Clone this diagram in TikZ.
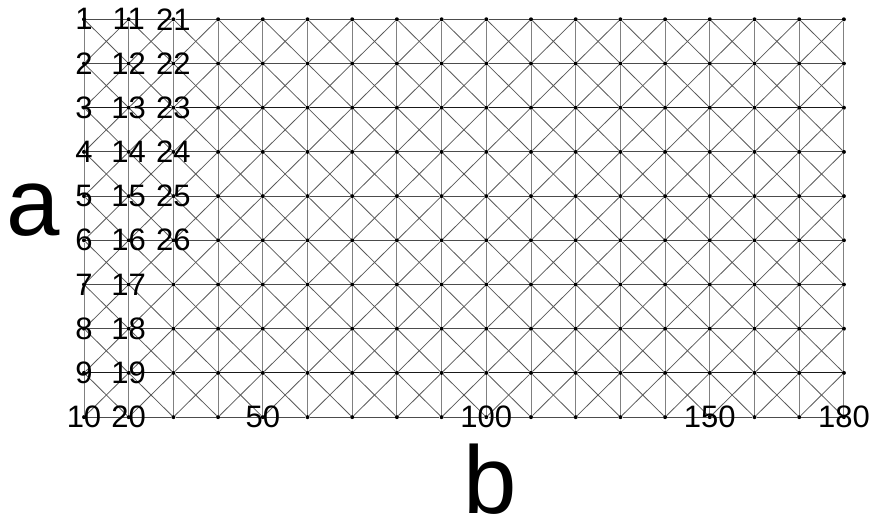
\documentclass[tikz,border=0pt]{standalone}
\usepackage{fontspec}
\setmainfont{Liberation Sans}
\usetikzlibrary{positioning}

\begin{document}
\begin{tikzpicture}[
x=1pt,
y=-1pt,
vertex/.style={
circle,
fill=black,
inner sep=0pt,
minimum size=4pt
},
hlink/.style={
draw=black!70,
line width=0.9pt
},
hlinkstrong/.style={
draw=black!90,
line width=1.1pt
},
vlink/.style={
draw=black!50,
line width=0.9pt
},
dlink/.style={
draw=black!65,
line width=0.8pt
},
numlabel/.style={
font=\fontsize{31}{31}\selectfont,
inner sep=0pt
},
axislabel/.style={
font=\fontsize{96}{96}\selectfont,
inner sep=0pt
}
]
\useasboundingbox (0,0) rectangle (871,523);

% grid points, numbered down each column
\foreach \c in {1,...,18}{
\foreach \r in {1,...,10}{
\pgfmathtruncatemacro{\k}{(\c-1)*10+\r}
\node[vertex] (n\k) at ({84+44.7*(\c-1)},{19.3+44.2*(\r-1)}) {};
}
}

% horizontal links
\foreach \c in {1,...,17}{
\foreach \r in {1,...,10}{
\pgfmathtruncatemacro{\k}{(\c-1)*10+\r}
\pgfmathtruncatemacro{\m}{\k+10}
\ifnum\r=3
\draw[hlinkstrong] (n\k) -- (n\m);
\else\ifnum\r=9
\draw[hlinkstrong] (n\k) -- (n\m);
\else
\draw[hlink] (n\k) -- (n\m);
\fi\fi
}
}

% vertical links
\foreach \c in {1,...,18}{
\foreach \r in {1,...,9}{
\pgfmathtruncatemacro{\k}{(\c-1)*10+\r}
\pgfmathtruncatemacro{\m}{\k+1}
\draw[vlink] (n\k) -- (n\m);
}
}

% crossing diagonals in every cell
\foreach \c in {1,...,17}{
\foreach \r in {1,...,9}{
\pgfmathtruncatemacro{\k}{(\c-1)*10+\r}
\pgfmathtruncatemacro{\p}{\k+11}
\pgfmathtruncatemacro{\q}{\k+1}
\pgfmathtruncatemacro{\s}{\k+10}
\draw[dlink] (n\k) -- (n\p);
\draw[dlink] (n\q) -- (n\s);
}
}

% point numbers
\foreach \k in {1,2,3,4,5,6,7,8,9,10,11,12,13,14,15,16,17,18,19,20,21,22,23,24,25,26,50,100,150,180}{
\node[numlabel] (l\k) at (n\k) {\k};
}

\node[axislabel] (alabel) at (33,210) {a};
\node[axislabel] (blabel) at (490,479) {b};

\end{tikzpicture}
\end{document}
